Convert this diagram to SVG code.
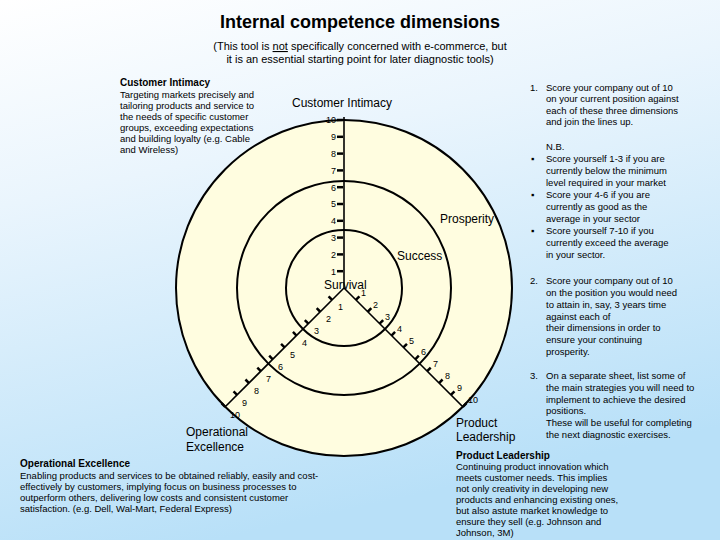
<svg xmlns="http://www.w3.org/2000/svg" width="720" height="540" viewBox="0 0 720 540">
<defs>
<linearGradient id="bg" x1="0" y1="0" x2="0.3" y2="1">
<stop offset="0" stop-color="#FFFFFF"/><stop offset="0.35" stop-color="#EAF5FD"/><stop offset="1" stop-color="#B8E0F8"/>
</linearGradient>
<style>
text{font-family:"Liberation Sans",Arial,sans-serif;fill:#000}
.b{font-size:9.5px}
.h{font-size:10px;font-weight:bold}
.n{font-size:9px}
.c{font-size:12px}
.ring{fill:none;stroke:#000;stroke-width:2}
.ax{stroke:#000;stroke-width:1.6}
.tk{stroke:#000;stroke-width:2.5}
</style>
</defs>
<rect width="720" height="540" fill="url(#bg)"/>
<text x="360" y="28" text-anchor="middle" font-size="18" font-weight="bold">Internal competence dimensions</text>
<text x="360" y="50" text-anchor="middle" font-size="11">(This tool is <tspan text-decoration="underline">not</tspan> specifically concerned with e-commerce, but</text>
<text x="360" y="63" text-anchor="middle" font-size="11">it is an essential starting point for later diagnostic tools)</text>

<g id="chart">
<circle cx="344" cy="288" r="168" fill="#FFFDE0" stroke="#000" stroke-width="2"/>
<circle class="ring" cx="344" cy="288" r="107"/>
<circle class="ring" cx="344" cy="288" r="58"/>
</g>

<g id="connectors">
<g id="axis-ci">
<line class="ax" x1="344" y1="288" x2="344" y2="117"/>
<g class="tk">
<line x1="337" y1="271.2" x2="343" y2="271.2"/><line x1="337" y1="254.4" x2="343" y2="254.4"/><line x1="337" y1="237.6" x2="343" y2="237.6"/><line x1="337" y1="220.8" x2="343" y2="220.8"/><line x1="337" y1="204" x2="343" y2="204"/><line x1="337" y1="187.2" x2="343" y2="187.2"/><line x1="337" y1="170.4" x2="343" y2="170.4"/><line x1="337" y1="153.6" x2="343" y2="153.6"/><line x1="337" y1="136.8" x2="343" y2="136.8"/><line x1="337" y1="120" x2="343" y2="120"/>
</g>
</g>
<g id="axis-oe" transform="translate(344,288) rotate(45)">
<line class="ax" x1="0" y1="0" x2="0" y2="168"/>
<g class="tk">
<line x1="-5" y1="16.8" x2="0" y2="16.8"/><line x1="-5" y1="33.6" x2="0" y2="33.6"/><line x1="-5" y1="50.4" x2="0" y2="50.4"/><line x1="-5" y1="67.2" x2="0" y2="67.2"/><line x1="-5" y1="84" x2="0" y2="84"/><line x1="-5" y1="100.8" x2="0" y2="100.8"/><line x1="-5" y1="117.6" x2="0" y2="117.6"/><line x1="-5" y1="134.4" x2="0" y2="134.4"/><line x1="-5" y1="151.2" x2="0" y2="151.2"/><line x1="-5" y1="168" x2="0" y2="168"/>
</g>
</g>
<g id="axis-pl" transform="translate(344,288) rotate(-45)">
<line class="ax" x1="0" y1="0" x2="0" y2="168"/>
<g class="tk">
<line x1="0" y1="16.8" x2="5" y2="16.8"/><line x1="0" y1="33.6" x2="5" y2="33.6"/><line x1="0" y1="50.4" x2="5" y2="50.4"/><line x1="0" y1="67.2" x2="5" y2="67.2"/><line x1="0" y1="84" x2="5" y2="84"/><line x1="0" y1="100.8" x2="5" y2="100.8"/><line x1="0" y1="117.6" x2="5" y2="117.6"/><line x1="0" y1="134.4" x2="5" y2="134.4"/><line x1="0" y1="151.2" x2="5" y2="151.2"/><line x1="0" y1="168" x2="5" y2="168"/>
</g>
</g>
</g>

<g id="scale-labels" class="n">
<g text-anchor="end">
<text x="336" y="274.5">1</text><text x="336" y="257.7">2</text><text x="336" y="240.9">3</text><text x="336" y="224.1">4</text><text x="336" y="207.3">5</text><text x="336" y="190.5">6</text><text x="336" y="173.7">7</text><text x="336" y="156.9">8</text><text x="336" y="140.1">9</text><text x="336" y="123.3">10</text>
</g>
<text x="338" y="310">1</text><text x="326" y="322">2</text><text x="314" y="334">3</text><text x="302" y="346">4</text><text x="290" y="358">5</text><text x="278" y="370">6</text><text x="266" y="382">7</text><text x="254" y="394">8</text><text x="242" y="406">9</text><text x="230" y="418">10</text>
<text x="361" y="296">1</text><text x="373" y="308">2</text><text x="385" y="320">3</text><text x="397" y="332">4</text><text x="409" y="344">5</text><text x="421" y="355">6</text><text x="433" y="367">7</text><text x="445" y="379">8</text><text x="457" y="391">9</text><text x="468" y="403">10</text>
</g>

<g id="node-ci"><text class="c" x="342" y="107" text-anchor="middle">Customer Intimacy</text></g>
<g id="node-prosperity"><text class="c" x="440" y="223">Prosperity</text></g>
<g id="node-success"><text class="c" x="397" y="260">Success</text></g>
<g id="node-survival"><text class="c" x="324" y="289">Survival</text></g>
<g id="node-oe"><text class="c" x="186" y="436">Operational</text><text class="c" x="186" y="451">Excellence</text></g>
<g id="node-pl"><text class="c" x="456" y="427">Product</text><text class="c" x="456" y="441">Leadership</text></g>

<g id="desc-ci">
<text class="h" x="120" y="86">Customer Intimacy</text>
<text class="b" x="120" y="98">Targeting markets precisely and</text>
<text class="b" x="120" y="109">tailoring products and service to</text>
<text class="b" x="120" y="120">the needs of specific customer</text>
<text class="b" x="120" y="131">groups, exceeding expectations</text>
<text class="b" x="120" y="142">and building loyalty (e.g. Cable</text>
<text class="b" x="120" y="153">and Wireless)</text>
</g>

<g id="instructions" class="b">
<text x="530" y="91">1.</text>
<text x="546" y="91">Score your company out of 10</text>
<text x="546" y="102">on your current position against</text>
<text x="546" y="114">each of these three dimensions</text>
<text x="546" y="125">and join the lines up.</text>
<text x="546" y="150">N.B.</text>
<text x="531" y="162">▪</text><text x="546" y="162">Score yourself 1-3 if you are</text>
<text x="546" y="174">currently below the minimum</text>
<text x="546" y="186">level required in your market</text>
<text x="531" y="198">▪</text><text x="546" y="198">Score your 4-6 if you are</text>
<text x="546" y="210">currently as good as the</text>
<text x="546" y="222">average in your sector</text>
<text x="531" y="234">▪</text><text x="546" y="234">Score yourself 7-10 if you</text>
<text x="546" y="246">currently exceed the average</text>
<text x="546" y="258">in your sector.</text>
<text x="530" y="284">2.</text>
<text x="546" y="284">Score your company out of 10</text>
<text x="546" y="296">on the position you would need</text>
<text x="546" y="308">to attain in, say, 3 years time</text>
<text x="546" y="320">against each of</text>
<text x="546" y="331">their dimensions in order to</text>
<text x="546" y="343">ensure your continuing</text>
<text x="546" y="355">prosperity.</text>
<text x="530" y="379">3.</text>
<text x="546" y="379">On a separate sheet, list some of</text>
<text x="546" y="391">the main strategies you will need to</text>
<text x="546" y="403">implement to achieve the desired</text>
<text x="546" y="414">positions.</text>
<text x="546" y="426">These will be useful for completing</text>
<text x="546" y="438">the next diagnostic exercises.</text>
</g>

<g id="desc-pl">
<text class="h" x="456" y="459">Product Leadership</text>
<text class="b" x="456" y="470">Continuing product innovation which</text>
<text class="b" x="456" y="481">meets customer needs.  This implies</text>
<text class="b" x="456" y="492">not only  creativity in developing new</text>
<text class="b" x="456" y="503">products and enhancing existing ones,</text>
<text class="b" x="456" y="514">but also astute market knowledge to</text>
<text class="b" x="456" y="525">ensure they sell  (e.g. Johnson and</text>
<text class="b" x="456" y="536">Johnson, 3M)</text>
</g>

<g id="desc-oe">
<text class="h" x="20" y="467">Operational Excellence</text>
<text class="b" x="20" y="479">Enabling products and services to be obtained reliably, easily and cost-</text>
<text class="b" x="20" y="490">effectively by customers, implying focus on business processes to</text>
<text class="b" x="20" y="501">outperform others, delivering low costs and consistent customer</text>
<text class="b" x="20" y="512">satisfaction.  (e.g. Dell, Wal-Mart, Federal Express)</text>
</g>
</svg>
